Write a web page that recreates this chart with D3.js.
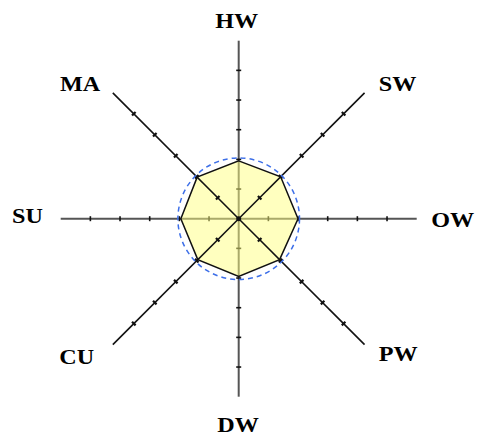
<!DOCTYPE html>
<html>
<head>
<meta charset="utf-8">
<script src="https://cdn.jsdelivr.net/npm/d3@7"></script>
<style>
  html, body { margin: 0; padding: 0; background: #fff; }
  svg { display: block; }
</style>
</head>
<body>
<svg id="chart" width="477" height="438"></svg>
<script>
const axesNames = ["HW", "SW", "OW", "PW", "DW", "CU", "SU", "MA"];
const values = [1.95, 2.0, 2.0, 1.95, 1.95, 1.95, 1.95, 1.98];
const tickValues = [1, 2, 3, 4, 5];
const maxValue = 6;
const circleValue = 2.05;

const svg = d3.select("#chart");
const cx = 238.7, cy = 218.7;
const r = d3.scaleLinear().domain([0, maxValue]).range([0, 178]);
const angle = i => (i * 45 - 90) * Math.PI / 180;

// label positions (centre x, baseline y)
const labelPos = {
  HW: [236.7, 28], SW: [397.5, 91], OW: [452.8, 227], PW: [398.3, 361],
  DW: [238, 432], CU: [76.7, 364], SU: [27.5, 223], MA: [80, 91]
};

const g = svg.append("g").attr("transform", `translate(${cx},${cy})`);

function drawAxis(i, cls) {
  const a = angle(i);
  const straight = i % 2 === 0;
  const ax = g.append("g").attr("class", cls);
  ax.append("line")
    .attr("x1", 0).attr("y1", 0)
    .attr("x2", r(maxValue) * Math.cos(a))
    .attr("y2", r(maxValue) * Math.sin(a))
    .attr("stroke", straight ? "#555" : "#111")
    .attr("stroke-width", straight ? 2 : 1.6);
  // tick marks perpendicular to the axis
  ax.selectAll("line.tick")
    .data(tickValues)
    .enter()
    .append("line")
    .attr("class", "tick")
    .attr("x1", d => r(d) * Math.cos(a) - 2.5 * Math.sin(a))
    .attr("y1", d => r(d) * Math.sin(a) + 2.5 * Math.cos(a))
    .attr("x2", d => r(d) * Math.cos(a) + 2.5 * Math.sin(a))
    .attr("y2", d => r(d) * Math.sin(a) - 2.5 * Math.cos(a))
    .attr("stroke", "#111")
    .attr("stroke-width", straight ? 1.6 : 2.2);
}

// horizontal / vertical axes under the polygon
axesNames.forEach((_, i) => { if (i % 2 === 0) drawAxis(i, "axis"); });

const line = d3.lineRadial()
  .angle((_, i) => i * Math.PI / 4)
  .radius(d => r(d))
  .curve(d3.curveLinearClosed);

g.append("path")
  .attr("d", line(values))
  .attr("fill", "#ffff80")
  .attr("fill-opacity", 0.5)
  .attr("stroke", "none");

// diagonal axes
axesNames.forEach((_, i) => { if (i % 2 === 1) drawAxis(i, "axis diag"); });

g.append("path")
  .attr("d", line(values))
  .attr("fill", "none")
  .attr("stroke", "#111")
  .attr("stroke-width", 1.5);

g.append("circle")
  .attr("r", r(circleValue))
  .attr("fill", "none")
  .attr("stroke", "#3d6fe8")
  .attr("stroke-width", 1.5)
  .attr("stroke-dasharray", "5,4");

g.append("circle").attr("r", 2.5).attr("fill", "#111");

svg.selectAll(".label")
  .data(axesNames)
  .enter()
  .append("text")
  .attr("class", "label")
  .attr("transform", d => `translate(${labelPos[d][0]},${labelPos[d][1]}) scale(1.15,1)`)
  .attr("text-anchor", "middle")
  .attr("font-family", "'Liberation Serif', 'Times New Roman', serif")
  .attr("font-weight", "bold")
  .attr("font-size", "21px")
  .attr("fill", "#000")
  .text(d => d);
</script>
</body>
</html>
